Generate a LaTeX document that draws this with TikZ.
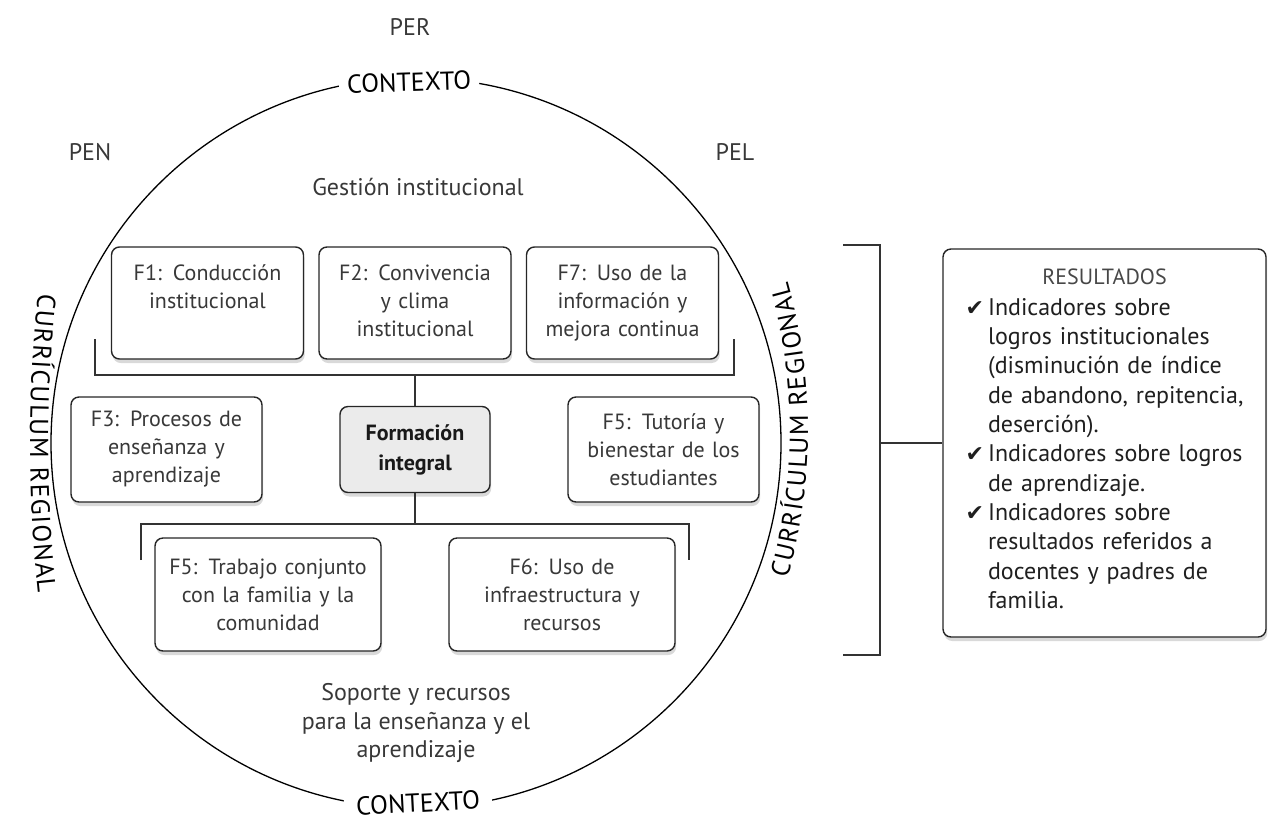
\documentclass[tikz,border=0pt]{standalone}
\usepackage{fontspec}
\setmainfont{PT Sans}
\newfontfamily\symfont{DejaVu Sans}
\usetikzlibrary{calc,shadows,decorations.text,math}

\newcommand{\chk}{{\symfont\fontsize{11}{14.65}\selectfont ✔}}
\newcommand{\ringfont}{\fontsize{13}{15}\selectfont}

\begin{document}
\begin{tikzpicture}[
		x=0.5pt,y=-0.5pt,
		every node/.style={text=black!78},
		freetext/.style={font=\fontsize{12}{14.25}\selectfont,align=center},
		factor/.style={draw=black!85,fill=white,line width=0.7pt,rounded corners=4pt,
			drop shadow={opacity=0.3,shadow xshift=0.6pt,shadow yshift=-2pt},
			font=\fontsize{11}{14}\selectfont,align=center,inner xsep=3pt,inner ysep=4pt},
		factortop/.style={factor,text width=90pt,text height=12.5pt,text depth=35.5pt},
		factormid/.style={factor,text width=89.5pt,minimum height=52.5pt},
		factorlow/.style={factor,text width=107pt,minimum height=56.5pt},
		core/.style={factor,fill=black!8,text=black!90,font=\fontsize{11}{15}\selectfont\bfseries,
			text width=69pt,minimum height=43pt},
		%
		ring/.style={circle,draw=black,line width=0.65pt,minimum size=365pt,inner sep=0pt},
		context/.style={fill=white,text=black,font=\fontsize{13}{15}\selectfont,inner xsep=4pt,inner ysep=0.5pt},
		curriculum/.style={decorate,decoration={text along path,text align=fit to path,text color=black,
			text={|\ringfont|CURRÍCULUM REGIONAL}}},
		bracket/.style={draw=black!80,line width=0.55pt},
		results/.style={draw=black!85,fill=white,line width=0.7pt,rounded corners=4pt,
			drop shadow={opacity=0.3,shadow xshift=0.6pt,shadow yshift=-2pt},
			align=center,text width=150pt,inner xsep=5.75pt,minimum height=194pt,
			font=\fontsize{12}{14.65}\selectfont,text=black!88}
	]
	\useasboundingbox (0,0) rectangle (1268,820);
	\tikzmath{\cx = 415; \rowa = 303; \rowb = 449.5; \rowc = 594.5;
		% horizontal offsets of the side boxes
		\offa = 207.5; \offb = 248.5; \offc = 147;
	}
	%
	\node[ring] (Ring) at (416,443) {};
	\node[context,rotate=2] (ContextoN) at (409,82) {CONTEXTO};
	\node[context,rotate=3,inner xsep=6pt] (ContextoS) at (418,803) {CONTEXTO};
	% the side texts lie on flatter arcs than the ring
	\coordinate (cur_l) at (1430,443);
	\coordinate (cur_r) at (258,430);
	\path[curriculum] (cur_l) ++(-173.86:1400) arc[start angle=-173.86,end angle=-186.14,radius=1400];
	\path[curriculum] (cur_r) ++(15.63:550) arc[start angle=15.63,end angle=-15.63,radius=550];
	%
	\node[freetext] (PER) at (410,27) {PER};
	\node[freetext] (PEN) at (90,152) {PEN};
	\node[freetext] (PEL) at (735,152) {PEL};
	\node[freetext] (Gestion) at (418,187) {Gestión institucional};
	\node[freetext] (Soporte) at (416,723) {Soporte y recursos\\para la enseñanza y el\\aprendizaje};
	%
	\begin{scope}[xshift=0cm,yshift=0cm]
		\node[factortop] (Conduccion)  at (\cx-\offa,\rowa) {F1: Conducción\\institucional};
		\node[factortop] (Convivencia) at (\cx,\rowa)       {F2: Convivencia\\y clima\\institucional};
		\node[factortop] (UsoInfo)     at (\cx+\offa,\rowa) {F7: Uso de la\\información y\\mejora continua};
		\node[factormid] (Procesos)    at (\cx-\offb,\rowb) {F3: Procesos de\\enseñanza y\\aprendizaje};
		\node[core]      (Formacion)   at (\cx,\rowb)       {Formación\\integral};
		\node[factormid] (Tutoria)     at (\cx+\offb,\rowb) {F5: Tutoría y\\bienestar de los\\estudiantes};
		\node[factorlow] (Familia)     at (\cx-\offc,\rowc) {F5: Trabajo conjunto\\con la familia y la\\comunidad};
		\node[factorlow] (Infraestructura) at (\cx+\offc,\rowc) {F6: Uso de\\infraestructura y\\recursos};
		%
		\coordinate (gest_bar) at (\cx,375);
		\coordinate (gest_l)   at (95,339);
		\coordinate (gest_r)   at (734,339);
		\draw[bracket] (gest_l) |- (gest_bar) -| (gest_r);
		\draw[bracket] (gest_bar) -- (Formacion.north);
		\coordinate (sop_bar) at (\cx,524);
		\coordinate (sop_l)   at (141,560);
		\coordinate (sop_r)   at (689,560);
		\draw[bracket] (sop_l) |- (sop_bar) -| (sop_r);
		\draw[bracket] (Formacion.south) -- (sop_bar);
	\end{scope}
	%
	\node[results] (Resultados) at (1104.5,443) {{\color{black!72}\fontsize{11}{14}\selectfont RESULTADOS}\\[4pt]
		\begin{tabular}{@{}l@{\hspace{2pt}}l@{}}
			\chk & Indicadores sobre\\
			     & logros institucionales\\
			     & (disminución de índice\\
			     & de abandono, repitencia,\\
			     & deserción).\\
			\chk & Indicadores sobre logros\\
			     & de aprendizaje.\\
			\chk & Indicadores sobre\\
			     & resultados referidos a\\
			     & docentes y padres de\\
			     & familia.
		\end{tabular}};
	\coordinate (res_bar) at (880,443);
	\coordinate (res_t)   at (843,245);
	\coordinate (res_b)   at (843,655);
	\draw[bracket] (res_t) -| (res_bar) |- (res_b);
	\draw[bracket] (res_bar) -- (Resultados.west);
\end{tikzpicture}
\end{document}
